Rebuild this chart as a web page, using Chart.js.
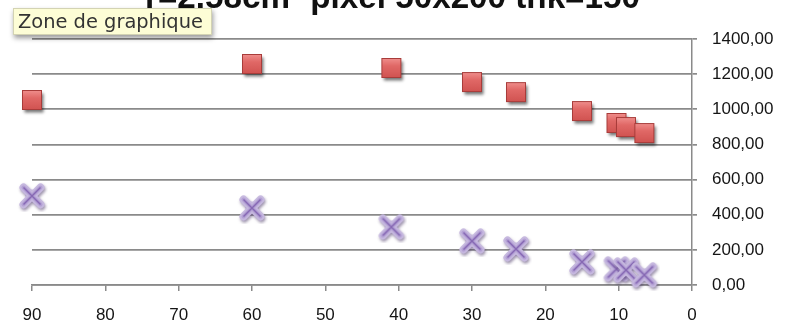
<!DOCTYPE html>
<html>
<head>
<meta charset="utf-8">
<script src="https://cdn.jsdelivr.net/npm/chart.js@4.4.1/dist/chart.umd.min.js"></script>
<style>
  html, body { margin: 0; padding: 0; background: #ffffff; }
  #wrap { width: 795px; height: 329px; position: relative; }
</style>
</head>
<body>
<div id="wrap"><canvas id="c" width="795" height="329"></canvas></div>
<script>
// Angle values shared by both series (x axis, drawn reversed 90 → 0)
const angles = [90, 60, 41, 30, 24, 15, 10.3, 9, 6.5];
// Upper series (red squares)
const seriesSquares = [1053, 1258, 1235, 1155, 1098, 990, 922, 899, 865];
// Lower series (purple crosses)
const seriesCrosses = [507, 438, 330, 250, 205, 131, 91, 85, 57];
// Axis tick values
const xTicks = [90, 80, 70, 60, 50, 40, 30, 20, 10, 0];
const yTicks = [0, 200, 400, 600, 800, 1000, 1200, 1400];

const chartTitle = 'r=2.58cm² pixel 50x200 thk=150';
const hoverNote = 'Zone de graphique';

const toPoints = (ys) => angles.map((x, i) => ({ x: x, y: ys[i] }));

// Marker images
function squareMarker() {
  const c = document.createElement('canvas');
  c.width = 32; c.height = 32;
  const g = c.getContext('2d');
  const s = 20, x0 = 16 - s / 2, y0 = 16 - s / 2;
  g.save();
  g.shadowColor = 'rgba(0,0,0,0.55)';
  g.shadowBlur = 3;
  g.shadowOffsetX = 1.5;
  g.shadowOffsetY = 2.5;
  const grad = g.createLinearGradient(0, y0, 0, y0 + s);
  grad.addColorStop(0, '#f0908e');
  grad.addColorStop(0.4, '#e06866');
  grad.addColorStop(1, '#d05250');
  g.fillStyle = grad;
  g.fillRect(x0, y0, s, s);
  g.restore();
  g.strokeStyle = '#a83c3a';
  g.lineWidth = 1;
  g.strokeRect(x0 + 0.5, y0 + 0.5, s - 1, s - 1);
  return c;
}

function crossMarker() {
  const c = document.createElement('canvas');
  c.width = 32; c.height = 32;
  const g = c.getContext('2d');
  const r = 8.5;
  const path = () => {
    g.beginPath();
    g.moveTo(16 - r, 16 - r); g.lineTo(16 + r, 16 + r);
    g.moveTo(16 + r, 16 - r); g.lineTo(16 - r, 16 + r);
  };
  // soft lavender body between the arms
  g.save();
  g.fillStyle = 'rgba(190,175,222,0.55)';
  g.beginPath();
  g.moveTo(16, 16 - 7); g.lineTo(16 + 7, 16); g.lineTo(16, 16 + 7); g.lineTo(16 - 7, 16);
  g.closePath();
  g.fill();
  g.restore();
  g.save();
  g.shadowColor = 'rgba(60,40,90,0.5)';
  g.shadowBlur = 3;
  g.shadowOffsetX = 1;
  g.shadowOffsetY = 2;
  g.strokeStyle = '#c6b8df';
  g.lineWidth = 8;
  g.lineCap = 'round';
  path();
  g.stroke();
  g.restore();
  g.strokeStyle = '#b3a0d4';
  g.lineWidth = 4;
  g.lineCap = 'round';
  path();
  g.stroke();
  g.strokeStyle = '#8668b3';
  g.lineWidth = 1.5;
  g.lineCap = 'butt';
  path();
  g.stroke();
  return c;
}

// Title (clipped at the top edge) and the yellow hover note
const overlayPlugin = {
  id: 'overlay',
  afterDraw(chart) {
    const ctx = chart.ctx;
    ctx.save();
    // title
    ctx.font = 'bold 100px "Liberation Sans", Arial, sans-serif';
    const w100 = ctx.measureText(chartTitle).width;
    const size = 100 * 495 / w100;
    ctx.font = 'bold ' + size.toFixed(2) + 'px "Liberation Sans", Arial, sans-serif';
    ctx.fillStyle = '#111111';
    ctx.textAlign = 'left';
    ctx.textBaseline = 'alphabetic';
    ctx.fillText(chartTitle, 145, 8);

    // note box
    ctx.shadowColor = 'rgba(0,0,0,0.4)';
    ctx.shadowBlur = 5;
    ctx.shadowOffsetX = 1;
    ctx.shadowOffsetY = 3;
    ctx.fillStyle = '#fdfdd6';
    ctx.fillRect(13, 8, 199, 27);
    ctx.shadowColor = 'transparent';
    ctx.strokeStyle = 'rgba(200,200,170,0.8)';
    ctx.lineWidth = 1;
    ctx.strokeRect(13.5, 8.5, 198, 26);
    ctx.font = '100px "DejaVu Sans", sans-serif';
    const n100 = ctx.measureText(hoverNote).width;
    const ns = 100 * 185 / n100;
    ctx.font = ns.toFixed(2) + 'px "DejaVu Sans", sans-serif';
    ctx.fillStyle = '#333333';
    ctx.fillText(hoverNote, 18, 28);
    ctx.restore();
  }
};

const gridGray = '#8a8a8a';
const tickFont = { family: '"Liberation Sans", Arial, sans-serif', size: 17 };

new Chart(document.getElementById('c'), {
  type: 'scatter',
  data: {
    datasets: [
      {
        label: 'A',
        data: toPoints(seriesSquares),
        pointStyle: squareMarker(),
        pointRadius: 10,
        showLine: false,
        clip: false
      },
      {
        label: 'B',
        data: toPoints(seriesCrosses),
        pointStyle: crossMarker(),
        pointRadius: 10,
        showLine: false,
        clip: false
      }
    ]
  },
  options: {
    responsive: false,
    animation: false,
    events: [],
    layout: { padding: { left: 32, top: 39, right: 0, bottom: 0 } },
    plugins: {
      legend: { display: false },
      title: { display: false },
      tooltip: { enabled: false }
    },
    scales: {
      x: {
        type: 'linear',
        reverse: true,
        min: 0,
        max: 90,
        afterBuildTicks(scale) { scale.ticks = xTicks.map(v => ({ value: v })); },
        afterFit(scale) { scale.height = 44; },
        grid: {
          drawOnChartArea: false,
          drawTicks: true,
          tickLength: 6,
          color: gridGray,
          lineWidth: 1.5
        },
        border: { display: true, color: gridGray, width: 1.6 },
        ticks: {
          padding: 14,
          color: '#151515',
          font: tickFont,
          maxRotation: 0,
          callback: (v) => String(v)
        }
      },
      y: {
        type: 'linear',
        position: 'right',
        min: 0,
        max: 1400,
        afterBuildTicks(scale) { scale.ticks = yTicks.map(v => ({ value: v })); },
        afterFit(scale) { scale.width = 103; },
        grid: {
          drawOnChartArea: true,
          drawTicks: true,
          tickLength: 5,
          color: gridGray,
          lineWidth: 1.7
        },
        border: { display: true, color: gridGray, width: 1.5 },
        ticks: {
          padding: 15,
          color: '#151515',
          font: tickFont,
          callback: (v) => v.toFixed(2).replace('.', ',')
        }
      }
    }
  },
  plugins: [overlayPlugin]
});
</script>
</body>
</html>
